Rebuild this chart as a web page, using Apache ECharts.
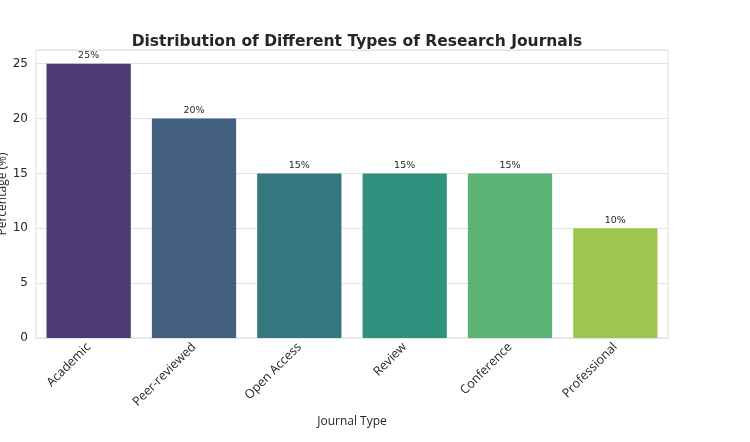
<!DOCTYPE html>
<html>
<head>
<meta charset="utf-8">
<script src="https://cdn.jsdelivr.net/npm/echarts@6/dist/echarts.min.js"></script>
<style>
html, body { margin: 0; padding: 0; background: #fff; }
#chart { width: 750px; height: 442px; }
</style>
</head>
<body>
<div id="chart"></div>
<script>
// data
var journalTypes = ['Academic', 'Peer-reviewed', 'Open Access', 'Review', 'Conference', 'Professional'];
var percentages = [25, 20, 15, 15, 15, 10];
var barColors = ['#4e3a74', '#425e80', '#36777f', '#2f917e', '#5ab275', '#9dc64e'];
var yTicks = [0, 5, 10, 15, 20, 25];

var myChart = echarts.init(document.getElementById('chart'));
var option = {
    backgroundColor: '#fff',
    animation: false,
    title: {
        text: 'Distribution of Different Types of Research Journals',
        left: 352,
        textAlign: 'center',
        top: 29,
        textStyle: { fontFamily: 'DejaVu Sans', fontWeight: 'bold', fontSize: 15.5, color: '#262626' }
    },
    grid: {
        left: 36, right: 82, top: 50, bottom: 104,
        outerBoundsMode: 'none',
        containLabel: false,
        show: true, borderColor: '#dcdcdc', borderWidth: 1
    },
    xAxis: {
        type: 'category',
        data: journalTypes,
        name: 'Journal Type',
        nameLocation: 'middle',
        nameGap: 78,
        nameMoveOverlap: false,
        nameTextStyle: { fontFamily: 'Open Sans', fontSize: 12, color: '#262626' },
        axisLine: { show: false },
        axisTick: { show: false },
        axisLabel: { rotate: 45, margin: 7, fontFamily: 'Open Sans', fontSize: 12.5, color: '#262626', interval: 0 }
    },
    yAxis: {
        type: 'value',
        min: 0,
        max: 26.25,
        interval: 5,
        name: 'Percentage (%)',
        nameLocation: 'middle',
        nameGap: 27,
        nameMoveOverlap: false,
        nameTextStyle: { fontFamily: 'Open Sans', fontSize: 12, color: '#262626' },
        axisLine: { show: false },
        axisTick: { show: false },
        axisLabel: {
            fontFamily: 'DejaVu Sans', fontSize: 12, color: '#262626', margin: 8,
            formatter: function (v) { return yTicks.indexOf(v) >= 0 ? v : ''; }
        },
        splitLine: { lineStyle: { color: '#e3e3e3', width: 1 } }
    },
    series: [{
        type: 'bar',
        data: percentages.map(function (v, i) {
            return { value: v, itemStyle: { color: barColors[i] } };
        }),
        barCategoryGap: '20%',
        label: {
            show: true,
            position: 'top',
            distance: 3,
            formatter: '{c}%',
            fontFamily: 'DejaVu Sans',
            fontSize: 9.5,
            color: '#262626'
        }
    }]
};
myChart.setOption(option);
</script>
</body>
</html>
